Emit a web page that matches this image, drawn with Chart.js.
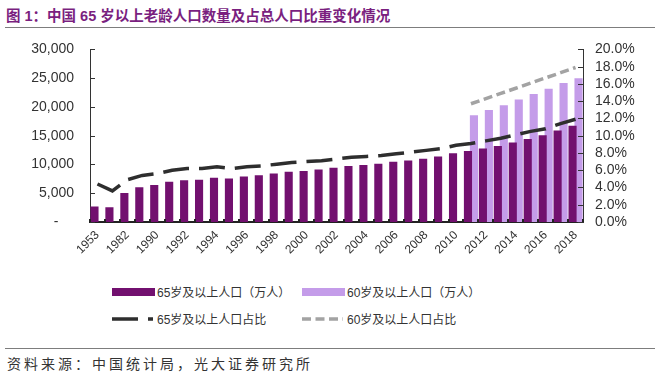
<!DOCTYPE html>
<html lang="zh">
<head>
  <meta charset="UTF-8">
  <title>中国65岁以上老龄人口</title>
  <style>
    body {
      margin: 0;
      width: 660px;
      height: 373px;
      position: relative;
      background: #fff;
      overflow: hidden;
      font-family: "Liberation Sans", Arial, "Noto Sans CJK SC", sans-serif;
    }
    #title {
      position: absolute;
      left: 6px;
      top: 4px;
      font-family: "Liberation Sans", "Noto Sans CJK SC", sans-serif;
      font-weight: bold;
      font-size: 14.5px;
      color: #7a1f7f;
      white-space: nowrap;
    }
    .rule {
      position: absolute;
      left: 5px;
      right: 5px;
      height: 0;
      border-top: 1.5px solid #7d7d7d;
    }
    #wrap {
      position: absolute;
      left: 0;
      top: 25px;
      width: 660px;
      height: 243px;
    }
    #legend {
      position: absolute;
      left: 112px;
      top: 283px;
      display: grid;
      grid-template-columns: 190px 200px;
      row-gap: 10px;
      font-family: "Liberation Sans", "Noto Sans CJK SC", sans-serif;
      font-size: 12px;
      color: #333;
    }
    #legend .item {
      display: flex;
      align-items: center;
      height: 17px;
      white-space: nowrap;
    }
    #legend svg { margin-right: 2px; }
    #source {
      position: absolute;
      left: 7px;
      top: 353px;
      font-family: "Noto Sans CJK SC", sans-serif;
      font-size: 14px;
      letter-spacing: 3px;
      color: #333;
      white-space: nowrap;
    }
  </style>
</head>
<body>
  <div id="title">图 1：中国 65 岁以上老龄人口数量及占总人口比重变化情况</div>
  <div class="rule" style="top:27px"></div>
  <div id="wrap"><canvas id="chart"></canvas></div>
  <div id="legend"></div>
  <div class="rule" style="top:348px"></div>
  <div id="source">资料来源：中国统计局，光大证券研究所</div>

  <script src="https://cdn.jsdelivr.net/npm/chart.js"></script>
  <script>
    // years on the x axis
    const years = ['1953', '1964', '1982', '1987', '1990', '1991', '1992', '1993', '1994', '1995',
      '1996', '1997', '1998', '1999', '2000', '2001', '2002', '2003', '2004', '2005',
      '2006', '2007', '2008', '2009', '2010', '2011', '2012', '2013', '2014', '2015',
      '2016', '2017', '2018'];

    // 65岁及以上人口（万人）
    const pop65 = [2632, 2492, 4991, 5968, 6368, 6938, 7218, 7289, 7622, 7510,
      7833, 8085, 8359, 8679, 8821, 9062, 9377, 9692, 9857, 10055,
      10419, 10636, 10956, 11307, 11894, 12288, 12714, 13161, 13755, 14386,
      15003, 15831, 16658];

    // 60岁及以上人口（万人）, only from 2011
    const pop60 = [null, null, null, null, null, null, null, null, null, null,
      null, null, null, null, null, null, null, null, null, null,
      null, null, null, null, null, 18499, 19390, 20243, 21242, 22200,
      23086, 24090, 24949];

    // 占比 (%)
    const share65 = [4.4, 3.6, 4.9, 5.4, 5.6, 6.0, 6.2, 6.2, 6.4, 6.2,
      6.4, 6.5, 6.7, 6.9, 7.0, 7.1, 7.3, 7.5, 7.6, 7.7,
      7.9, 8.1, 8.3, 8.5, 8.9, 9.1, 9.4, 9.7, 10.1, 10.5,
      10.8, 11.4, 11.9];
    const share60 = [null, null, null, null, null, null, null, null, null, null,
      null, null, null, null, null, null, null, null, null, null,
      null, null, null, null, null, 13.7, 14.3, 14.9, 15.5, 16.1,
      16.7, 17.3, 17.9];

    const leftTicks = [0, 5000, 10000, 15000, 20000, 25000, 30000];
    const rightTicks = [0, 2, 4, 6, 8, 10, 12, 14, 16, 18, 20];

    const dark = '#72106f';
    const light = '#c49ce9';

    // small tick marks drawn inside the plot, like the original
    const innerTicks = {
      id: 'innerTicks',
      afterDraw(chart) {
        const c = chart.ctx;
        const area = chart.chartArea;
        const y = chart.scales.y, y1 = chart.scales.y1, x = chart.scales.x;
        c.save();
        c.strokeStyle = '#333';
        c.lineWidth = 1;
        c.beginPath();
        leftTicks.forEach(v => {
          const py = Math.round(y.getPixelForValue(v)) + 0.5;
          c.moveTo(area.left, py); c.lineTo(area.left + 5, py);
        });
        rightTicks.forEach(v => {
          const py = Math.round(y1.getPixelForValue(v)) + 0.5;
          c.moveTo(area.right - 5, py); c.lineTo(area.right, py);
        });
        c.stroke();
        c.lineWidth = 2;
        c.strokeStyle = '#222';
        c.beginPath();
        for (let i = 0; i <= years.length; i++) {
          const px = Math.round(x.getPixelForValue(i - 0.5));
          c.moveTo(px, area.bottom); c.lineTo(px, area.bottom - 3);
        }
        c.stroke();
        c.restore();
      }
    };

    const chart = new Chart(document.getElementById('chart'), {
      data: {
        labels: years,
        datasets: [
          {
            type: 'line', label: '65岁及以上人口占比', data: share65, yAxisID: 'y1',
            borderColor: '#2e2e2e', borderWidth: 3.5, borderDash: [26, 10],
            pointRadius: 0, tension: 0, order: 0
          },
          {
            type: 'line', label: '60岁及以上人口占比', data: share60, yAxisID: 'y1',
            borderColor: '#a3a3a3', borderWidth: 3.5, borderDash: [9, 4.5],
            pointRadius: 0, tension: 0, order: 0
          },
          {
            type: 'bar', label: '65岁及以上人口（万人）', data: pop65, yAxisID: 'y',
            backgroundColor: dark, categoryPercentage: 0.8, barPercentage: 1.25, order: 1
          },
          {
            type: 'bar', label: '60岁及以上人口（万人）', data: pop60, yAxisID: 'y',
            backgroundColor: light, categoryPercentage: 0.8, barPercentage: 1.25, order: 1
          }
        ]
      },
      options: {
        responsive: true,
        maintainAspectRatio: false,
        animation: false,
        devicePixelRatio: 1,
        layout: { padding: 0 },
        plugins: { legend: { display: false }, tooltip: { enabled: false } },
        scales: {
          x: {
            grid: { display: false, drawTicks: false },
            border: { display: true, color: '#222', width: 2 },
            ticks: {
              autoSkip: false, maxRotation: 45, minRotation: 45, padding: 6,
              color: '#333', font: { family: 'Liberation Sans', size: 12 },
              callback: (v, i) => (i % 2 === 0 ? years[i] : '')
            },
            afterFit: s => { s.height = 46; }
          },
          y: {
            position: 'left', min: 0, max: 30000,
            grid: { display: false, drawTicks: false },
            border: { display: true, color: '#333', width: 1 },
            ticks: {
              stepSize: 5000, padding: 16, color: '#333', autoSkip: false,
              font: { family: 'Liberation Sans', size: 14 },
              callback: v => (v === 0 ? '-    ' : v.toLocaleString('en-US'))
            },
            afterFit: s => { s.width = 90; }
          },
          y1: {
            position: 'right', min: 0, max: 20,
            grid: { display: false, drawTicks: false },
            border: { display: true, color: '#333', width: 1 },
            ticks: {
              stepSize: 2, padding: 12, color: '#333', autoSkip: false,
              font: { family: 'Liberation Sans', size: 14 },
              callback: v => v.toFixed(1) + '%'
            },
            afterFit: s => { s.width = 77; }
          }
        }
      },
      plugins: [innerTicks]
    });

    // legend in two rows: bars first, then the lines
    const legendOrder = [2, 3, 0, 1];
    const legend = document.getElementById('legend');
    legendOrder.forEach(idx => {
      const ds = chart.data.datasets[idx];
      const item = document.createElement('div');
      item.className = 'item';
      let swatch;
      if (ds.type === 'bar') {
        swatch = `<svg width="43" height="10"><rect x="0" y="1" width="43" height="8" fill="${ds.backgroundColor}"/></svg>`;
      } else {
        swatch = `<svg width="43" height="10"><line x1="0" y1="5" x2="41" y2="5" stroke="${ds.borderColor}" stroke-width="3.5" stroke-dasharray="${ds.borderDash.join(' ')}"/></svg>`;
      }
      item.innerHTML = swatch + '<span>' + ds.label + '</span>';
      legend.appendChild(item);
    });
  </script>
</body>
</html>
